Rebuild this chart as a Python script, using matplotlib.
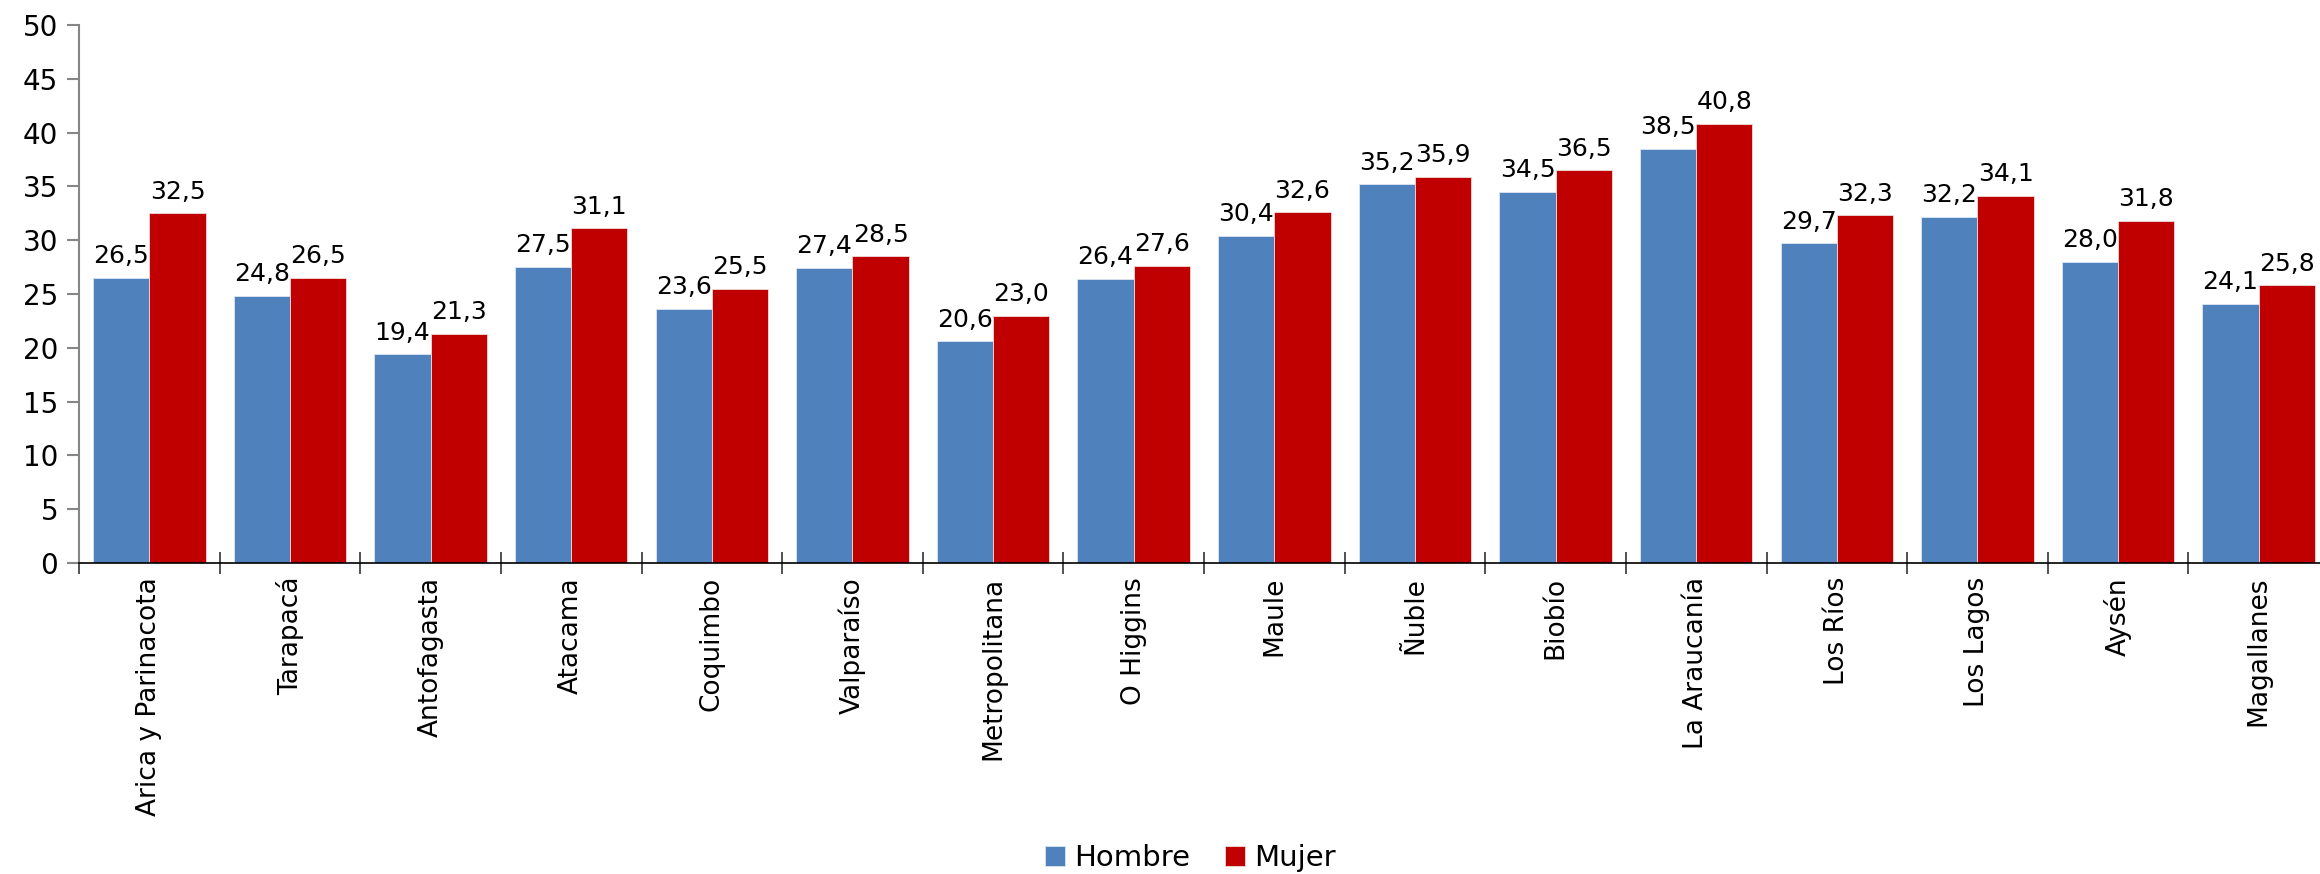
import numpy as np
import matplotlib
matplotlib.use('Agg')
import matplotlib.pyplot as plt
from matplotlib.ticker import FixedLocator, NullFormatter

regiones = ['Arica y Parinacota', 'Tarapacá', 'Antofagasta', 'Atacama', 'Coquimbo',
            'Valparaíso', 'Metropolitana', 'O Higgins', 'Maule', 'Ñuble', 'Biobío',
            'La Araucanía', 'Los Ríos', 'Los Lagos', 'Aysén', 'Magallanes']
hombre = [26.5, 24.8, 19.4, 27.5, 23.6, 27.4, 20.6, 26.4, 30.4, 35.2, 34.5, 38.5,
          29.7, 32.2, 28.0, 24.1]
mujer = [32.5, 26.5, 21.3, 31.1, 25.5, 28.5, 23.0, 27.6, 32.6, 35.9, 36.5, 40.8,
         32.3, 34.1, 31.8, 25.8]

AZUL = '#4F81BD'
ROJO = '#C00000'

fig = plt.figure(figsize=(23.2, 8.74), dpi=100)
ax = fig.add_axes([79 / 2320, 1 - 563 / 874, (2329 - 79) / 2320, (563 - 25) / 874])

x = np.arange(len(regiones))
w = 0.4
b1 = ax.bar(x - w / 2, hombre, w, color=AZUL, edgecolor='#dce6f2', linewidth=0.6, label='Hombre')
b2 = ax.bar(x + w / 2, mujer, w, color=ROJO, edgecolor='#f2dcdb', linewidth=0.6, label='Mujer')

for bars, vals in ((b1, hombre), (b2, mujer)):
    for r, v in zip(bars, vals):
        ax.annotate(f'{v:.1f}'.replace('.', ','),
                    (r.get_x() + r.get_width() / 2, v),
                    xytext=(0, 7), textcoords='offset points',
                    ha='center', va='bottom', fontsize=18)

ax.set_xlim(-0.5, len(regiones) - 0.5)
ax.set_ylim(0, 50)
ax.set_yticks(range(0, 51, 5))
ax.tick_params(axis='y', labelsize=20, length=9, color='#868686', width=1.5, pad=6)

# ticks de separación entre categorías, etiquetas centradas
ax.xaxis.set_major_locator(FixedLocator(np.arange(-0.5, len(regiones), 1.0)))
ax.xaxis.set_major_formatter(NullFormatter())
ax.xaxis.set_minor_locator(FixedLocator(x))
ax.set_xticklabels(regiones, minor=True, rotation=90, fontsize=19)
ax.tick_params(axis='x', which='major', direction='inout', length=16, width=1.2, color='#333333')
ax.tick_params(axis='x', which='minor', length=0, pad=10)

for s in ('top', 'right'):
    ax.spines[s].set_visible(False)
ax.spines['left'].set_color('#868686')
ax.spines['left'].set_linewidth(1.5)
ax.spines['bottom'].set_color('black')
ax.spines['bottom'].set_linewidth(1.2)

fig.legend(handles=[b1, b2], loc='center', bbox_to_anchor=(1190 / 2320, 1 - 858 / 874),
           ncol=2, frameon=False, fontsize=21, handlelength=0.7, handleheight=0.7,
           handletextpad=0.3, columnspacing=1.2, borderaxespad=0)

fig.savefig('out.png', dpi=100)
